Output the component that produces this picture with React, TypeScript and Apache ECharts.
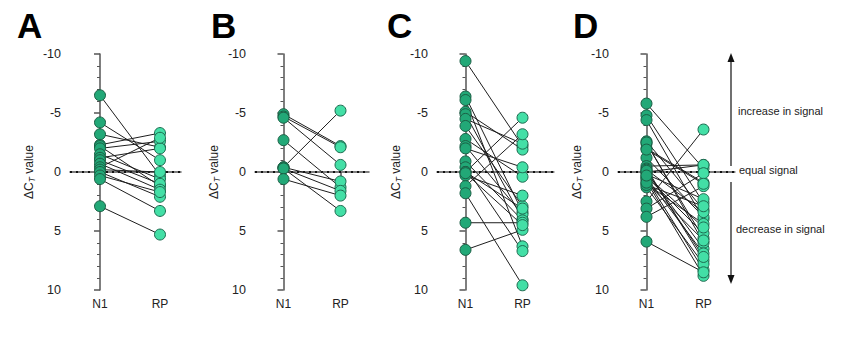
import React, { useEffect, useRef } from "react";
import * as echarts from "echarts";

const categories = ["N1", "RP"];
const yTicks = [-10, -5, 0, 5, 10];

const aN1 = [-6.5, -4.2, -3.2, -2.3, -2.2, -2.0, -1.5, -1.2, -1.0, -0.7, -0.4, -0.2, 0.0, 0.3, 0.6, 2.9];
const aRP = [0.3, -1.0, -2.1, -3.3, 1.2, -2.6, 0.6, -2.0, 1.0, 1.5, -2.9, 0.0, 2.1, 1.7, 3.3, 5.3];

const bN1 = [-4.9, -4.7, -4.6, -2.7, -0.4, -0.4, -0.3, -0.3, 0.6];
const bRP = [-2.2, -2.1, -0.6, 1.3, -5.2, 0.8, 1.6, 3.3, 2.0];

const cN1 = [-9.4, -6.4, -6.1, -5.1, -4.9, -4.5, -3.9, -2.8, -2.2, -2.0, -0.9, -0.4, 0.0, 0.0, 0.3, 1.2, 1.8, 4.3, 6.6, 0.1];
const cRP = [-2.2, 3.4, 6.3, -1.9, 4.0, -2.4, 2.9, 0.4, 3.6, -0.4, 4.1, 6.7, -4.6, 3.1, 2.0, -3.2, 9.6, 4.3, 4.9, 4.5];

const dN1 = [-5.8, -4.8, -4.4, -2.6, -2.4, -2.0, -1.2, -0.5, -0.3, 0.0, 0.0, 0.2, 0.4, 0.6, 0.8, 1.0, 1.3, 2.5, 3.1, 3.8, 5.9, -2.5, -0.2, 0.5, 1.1, 0.9, -1.9, -0.1, 0.3];
const dRP = [-0.3, 2.6, 4.0, 3.2, 5.6, 0.9, 3.8, -0.6, 7.5, -0.6, 6.5, 2.3, 5.2, 8.3, 8.8, 4.4, 7.8, -3.6, 0.1, 1.2, 8.5, 6.0, 3.4, 6.9, 2.9, 5.8, 1.0, 7.2, 4.7];

const panelLetters = ["A", "B", "C", "D"];
const annotations = ["increase in signal", "equal signal", "decrease in signal"];

const panels = [
  { n1: aN1, rp: aRP, left: 70, unit: 60, xMax: 1.35, letterX: 17 },
  { n1: bN1, rp: bRP, left: 255, unit: 57, xMax: 1.5, letterX: 211 },
  { n1: cN1, rp: cRP, left: 437, unit: 57, xMax: 1.55, letterX: 387 },
  { n1: dN1, rp: dRP, left: 618, unit: 57, xMax: 1.55, letterX: 573 },
];

const FONT = "Liberation Sans, Arial, sans-serif";

export default function App() {
  const ref = useRef<HTMLDivElement>(null);
  useEffect(() => {
    if (!ref.current) return;
    const chart = echarts.init(ref.current, null, { renderer: "svg" });
    const grids: any[] = [];
    const xAxes: any[] = [];
    const yAxes: any[] = [];
    const series: any[] = [];
    const graphics: any[] = [];
    panels.forEach((p, i) => {
      const xMin = -0.5;
      grids.push({
        left: p.left,
        top: 54,
        width: (p.xMax - xMin) * p.unit,
        height: 236,
      });
      xAxes.push({
        gridIndex: i,
        type: "value",
        min: xMin,
        max: p.xMax,
        axisLine: { show: true, lineStyle: { color: "#555", width: 1.5 } },
        axisTick: { show: true, customValues: [0, 1], length: 5, lineStyle: { color: "#555", width: 1.5 } },
        axisLabel: {
          customValues: [0, 1],
          formatter: (v: number) => categories[Math.round(v)] ?? "",
          color: "#222",
          fontSize: 12,
          fontFamily: FONT,
          margin: 8,
        },
        splitLine: { show: false },
      });
      yAxes.push({
        gridIndex: i,
        type: "value",
        inverse: true,
        min: yTicks[0],
        max: yTicks[yTicks.length - 1],
        interval: 5,
        axisLine: { show: true, lineStyle: { color: "#555", width: 1.5 } },
        axisTick: { show: true, length: 6, lineStyle: { color: "#555", width: 1.5 } },
        minorTick: { show: true, splitNumber: 5, length: 3, lineStyle: { color: "#555", width: 1 } },
        axisLabel: { color: "#222", fontSize: 12.5, fontFamily: FONT, margin: 9 },
        splitLine: { show: false },
        name: "{a|ΔC}{s|T}{a| value}",
        nameLocation: "middle",
        nameRotate: 90,
        nameGap: 34,
        nameTextStyle: {
          rich: {
            a: { fontSize: 12, color: "#222", fontFamily: FONT },
            s: { fontSize: 8.5, fontStyle: "italic", color: "#222", fontFamily: FONT, padding: [6, 0, 0, 0] },
          },
        },
      });
      // dotted zero line
      series.push({
        type: "line",
        xAxisIndex: i,
        yAxisIndex: i,
        data: [],
        z: 1,
        markLine: {
          silent: true,
          z: 1,
          symbol: ["none", "none"],
          label: { show: false },
          lineStyle: { color: "#111", type: [2, 4], width: 2 },
          data: [{ yAxis: 0 }],
        },
      });
      p.n1.forEach((v, k) => {
        series.push({
          type: "line",
          xAxisIndex: i,
          yAxisIndex: i,
          data: [
            [0, v],
            [1, p.rp[k]],
          ],
          showSymbol: false,
          lineStyle: { color: "#1e1e1e", width: 1 },
          z: 2,
        });
      });
      series.push({
        type: "scatter",
        xAxisIndex: i,
        yAxisIndex: i,
        data: p.n1.map((v) => [0, v]),
        symbolSize: 11,
        itemStyle: { color: "#22a877", borderColor: "#1b5e44", borderWidth: 1, opacity: 1 },
        z: 6,
      });
      series.push({
        type: "scatter",
        xAxisIndex: i,
        yAxisIndex: i,
        data: p.rp.map((v) => [1, v]),
        symbolSize: 11,
        itemStyle: { color: "#43dfa6", borderColor: "#1d6a4f", borderWidth: 1, opacity: 1 },
        z: 6,
      });
      graphics.push({
        type: "text",
        left: p.letterX,
        top: 8,
        style: { text: panelLetters[i], font: `bold 35px ${FONT}`, fill: "#000" },
      });
    });
    // annotation arrow
    graphics.push(
      { type: "line", shape: { x1: 731, y1: 166, x2: 731, y2: 60 }, style: { stroke: "#111", lineWidth: 1.2 } },
      { type: "polygon", shape: { points: [[731, 53], [727.5, 62], [734.5, 62]] }, style: { fill: "#111" } },
      { type: "line", shape: { x1: 731, y1: 182, x2: 731, y2: 276 }, style: { stroke: "#111", lineWidth: 1.2 } },
      { type: "polygon", shape: { points: [[731, 284], [727.5, 275], [734.5, 275]] }, style: { fill: "#111" } },
      { type: "text", left: 738, top: 105, style: { text: annotations[0], font: `11px ${FONT}`, fill: "#222" } },
      { type: "text", left: 739, top: 164, style: { text: annotations[1], font: `11px ${FONT}`, fill: "#222" } },
      { type: "text", left: 736, top: 223, style: { text: annotations[2], font: `11px ${FONT}`, fill: "#222" } }
    );
    chart.setOption({
      animation: false,
      backgroundColor: "#fff",
      grid: grids,
      xAxis: xAxes,
      yAxis: yAxes,
      series,
      graphic: graphics,
    });
    return () => chart.dispose();
  }, []);
  return <div ref={ref} style={{ width: 850, height: 338, position: "absolute", left: 0, top: 0 }} />;
}
